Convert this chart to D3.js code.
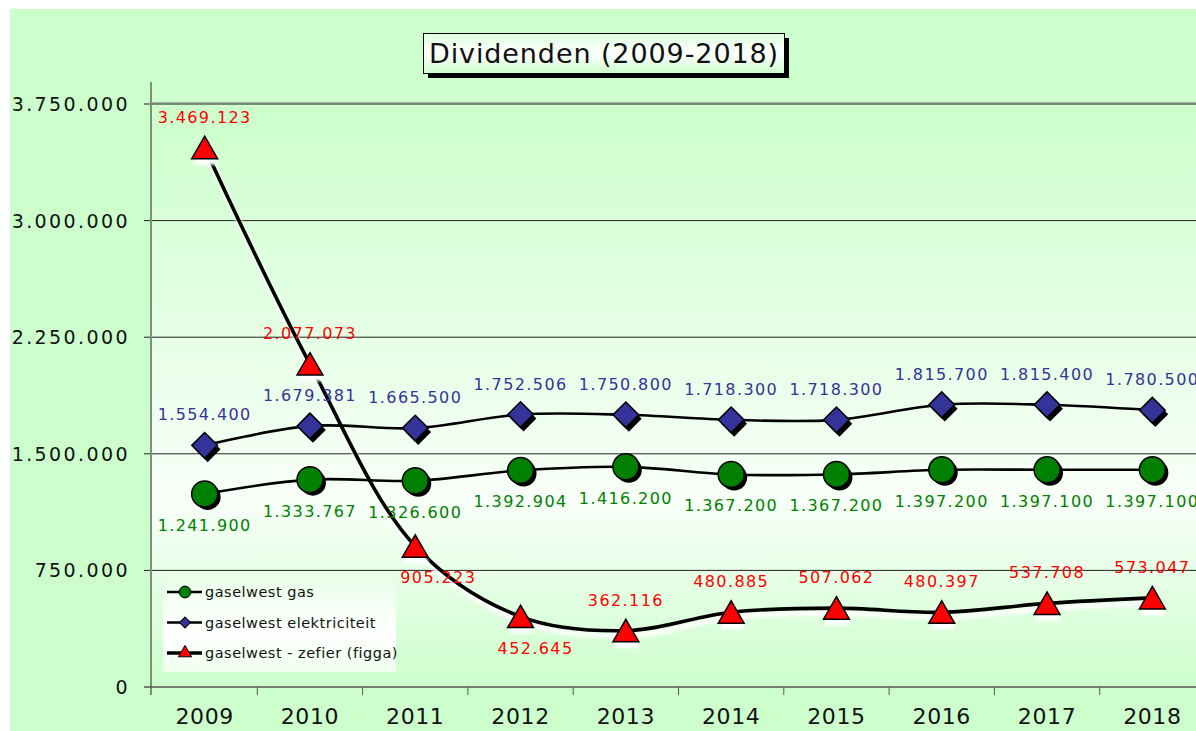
<!DOCTYPE html>
<html>
<head>
<meta charset="utf-8">
<script src="https://cdn.jsdelivr.net/npm/d3@7"></script>
<style>
  body { margin: 0; background: #fff; }
  svg { display: block; font-family: "DejaVu Sans", sans-serif; }
</style>
</head>
<body>
<div id="chart"></div>
<script>
// data
const years = ['2009', '2010', '2011', '2012', '2013', '2014', '2015', '2016', '2017', '2018'];
const gas = [1241900, 1333767, 1326600, 1392904, 1416200, 1367200, 1367200, 1397200, 1397100, 1397100];
const elektriciteit = [1554400, 1679381, 1665500, 1752506, 1750800, 1718300, 1718300, 1815700, 1815400, 1780500];
const zefier = [3469123, 2077073, 905223, 452645, 362116, 480885, 507062, 480397, 537708, 573047];
const yTicks = [0, 750000, 1500000, 2250000, 3000000, 3750000];
const seriesNames = ['gaselwest gas', 'gaselwest elektriciteit', 'gaselwest - zefier (figga)'];
// label above (-1) or below (+1) the marker, for zefier
const zefierSide = [-1, -1, 1, 1, -1, -1, -1, -1, -1, -1];
const zefierShift = [0, 0, 23, 15, 0, 0, 0, 0, 0, 0];

const W = 1196, H = 731;
const plotLeft = 152, plotRight = 1205, plotTop = 104, plotBottom = 687;

const fmt = v => d3.format(',')(v).replace(/,/g, '.');

const svg = d3.select('#chart').append('svg')
  .attr('width', W)
  .attr('height', H);

const defs = svg.append('defs');
const bg = defs.append('linearGradient').attr('id', 'plotBg')
  .attr('x1', 0).attr('y1', 0).attr('x2', 0).attr('y2', 1);
bg.append('stop').attr('offset', '0%').attr('stop-color', '#ccffcc');
bg.append('stop').attr('offset', '68%').attr('stop-color', '#f8fff8');
bg.append('stop').attr('offset', '100%').attr('stop-color', '#ccffcc');

const tg = defs.append('linearGradient').attr('id', 'titleBg')
  .attr('x1', 0).attr('y1', 0).attr('x2', 0).attr('y2', 1);
tg.append('stop').attr('offset', '0%').attr('stop-color', '#ddffdd');
tg.append('stop').attr('offset', '50%').attr('stop-color', '#ffffff');
tg.append('stop').attr('offset', '100%').attr('stop-color', '#ccffcc');

const lg = defs.append('linearGradient').attr('id', 'legendBg')
  .attr('x1', 0).attr('y1', 0).attr('x2', 0).attr('y2', 1);
lg.append('stop').attr('offset', '0%').attr('stop-color', '#e8ffe8');
lg.append('stop').attr('offset', '60%').attr('stop-color', '#ffffff');
lg.append('stop').attr('offset', '100%').attr('stop-color', '#eeffee');

defs.append('filter').attr('id', 'glow')
  .attr('x', '-20%').attr('y', '-20%').attr('width', '140%').attr('height', '140%')
  .append('feGaussianBlur').attr('stdDeviation', 1.5);

// chart background
svg.append('rect')
  .attr('x', 10).attr('y', 9)
  .attr('width', W).attr('height', H)
  .attr('fill', '#ccffcc');

// plot area
svg.append('rect')
  .attr('x', plotLeft).attr('y', plotTop)
  .attr('width', plotRight - plotLeft).attr('height', plotBottom - plotTop)
  .attr('fill', 'url(#plotBg)');

const x = d3.scaleBand().domain(years).range([plotLeft, plotRight]);
const y = d3.scaleLinear().domain([0, 3750000]).range([plotBottom, plotTop]);
const cx = d => x(d) + x.bandwidth() / 2;

// gridlines + y labels
svg.append('g').selectAll('line')
  .data(yTicks.filter(d => d > 0))
  .enter().append('line')
  .attr('x1', plotLeft - 8).attr('x2', plotRight)
  .attr('y1', d => y(d)).attr('y2', d => y(d))
  .attr('stroke', '#222').attr('stroke-width', 1);

svg.append('line')
  .attr('x1', plotLeft).attr('x2', plotRight)
  .attr('y1', plotTop - 1).attr('y2', plotTop - 1)
  .attr('stroke', '#777').attr('stroke-width', 1);

svg.append('g').selectAll('text')
  .data(yTicks)
  .enter().append('text')
  .attr('x', 130)
  .attr('y', d => y(d) + 7)
  .attr('text-anchor', 'end')
  .attr('font-size', 19)
  .attr('letter-spacing', 2.4)
  .attr('fill', '#111')
  .text(fmt);

// axes
svg.append('line')
  .attr('x1', plotLeft - 1).attr('x2', plotLeft - 1)
  .attr('y1', 82).attr('y2', plotBottom + 8)
  .attr('stroke', '#7f8f7f').attr('stroke-width', 2);
svg.append('line')
  .attr('x1', plotLeft - 8).attr('x2', plotRight)
  .attr('y1', plotBottom).attr('y2', plotBottom)
  .attr('stroke', '#555').attr('stroke-width', 1.5);

svg.append('g').selectAll('line')
  .data(years.slice(1))
  .enter().append('line')
  .attr('x1', d => x(d)).attr('x2', d => x(d))
  .attr('y1', plotBottom).attr('y2', plotBottom + 8)
  .attr('stroke', '#555').attr('stroke-width', 1);

svg.append('g').selectAll('text')
  .data(years)
  .enter().append('text')
  .attr('x', d => cx(d))
  .attr('y', 724)
  .attr('text-anchor', 'middle')
  .attr('font-size', 22)
  .attr('letter-spacing', 0.6)
  .attr('fill', '#111')
  .text(d => d);

const curve = d3.curveCatmullRom.alpha(0.5);
const lineGen = d3.line()
  .x((d, i) => cx(years[i]))
  .y(d => y(d))
  .curve(curve);

// zefier white glow underneath
svg.append('path')
  .attr('d', lineGen(zefier))
  .attr('transform', 'translate(2,5)')
  .attr('fill', 'none')
  .attr('stroke', '#ffffff')
  .attr('stroke-width', 5)
  .attr('opacity', 0.9)
  .attr('filter', 'url(#glow)');

svg.append('path')
  .attr('d', lineGen(gas))
  .attr('fill', 'none').attr('stroke', '#000').attr('stroke-width', 2.6);
svg.append('path')
  .attr('d', lineGen(elektriciteit))
  .attr('fill', 'none').attr('stroke', '#000').attr('stroke-width', 2.6);
svg.append('path')
  .attr('d', lineGen(zefier))
  .attr('fill', 'none').attr('stroke', '#000').attr('stroke-width', 3.6);

// markers
const circleSym = d3.symbol().type(d3.symbolCircle).size(530);
const diamondSym = d3.symbol().type(d3.symbolSquare).size(330);
const triSym = d3.symbol().type(d3.symbolTriangle).size(290);

function markers(vals, sym, fill, rot, dy, shadow) {
  const g = svg.append('g');
  g.selectAll('path.sh')
    .data(vals)
    .enter().append('path')
    .attr('class', 'sh')
    .attr('d', sym)
    .attr('transform', (d, i) => `translate(${cx(years[i]) + shadow[0]},${y(d) + dy + shadow[1]}) rotate(${rot})`)
    .attr('fill', shadow[2])
    .attr('filter', shadow[3] ? 'url(#glow)' : null);
  g.selectAll('path.mk')
    .data(vals)
    .enter().append('path')
    .attr('class', 'mk')
    .attr('d', sym)
    .attr('transform', (d, i) => `translate(${cx(years[i])},${y(d) + dy}) rotate(${rot})`)
    .attr('fill', fill)
    .attr('stroke', '#000')
    .attr('stroke-width', 1.5);
}

markers(gas, circleSym, '#008000', 0, 0, [3, 3, '#000', false]);
markers(elektriciteit, diamondSym, '#333399', 45, 0, [3, 4, '#000', false]);
markers(zefier, triSym, '#ff0000', 0, 3.5, [1, 6, '#ffffff', true]);

// legend
const legend = svg.append('g');
legend.append('rect')
  .attr('x', 163).attr('y', 575)
  .attr('width', 233).attr('height', 97)
  .attr('fill', 'url(#legendBg)');

const legendSyms = [
  { sym: d3.symbol().type(d3.symbolCircle).size(110), fill: '#008000', rot: 0 },
  { sym: d3.symbol().type(d3.symbolSquare).size(60), fill: '#333399', rot: 45 },
  { sym: d3.symbol().type(d3.symbolTriangle).size(75), fill: '#ff0000', rot: 0 }
];

const items = legend.selectAll('g.item')
  .data(seriesNames)
  .enter().append('g')
  .attr('class', 'item')
  .attr('transform', (d, i) => `translate(0,${592 + i * 30.5})`);

items.append('line')
  .attr('x1', 167).attr('x2', 202)
  .attr('y1', 0).attr('y2', 0)
  .attr('stroke', '#000')
  .attr('stroke-width', (d, i) => i === 2 ? 3.5 : 2.6);

items.append('path')
  .attr('d', (d, i) => legendSyms[i].sym())
  .attr('transform', (d, i) => `translate(185,0) rotate(${legendSyms[i].rot})`)
  .attr('fill', (d, i) => legendSyms[i].fill)
  .attr('stroke', '#000').attr('stroke-width', 1);

items.append('text')
  .attr('x', 205).attr('y', 5)
  .attr('font-size', 14.5)
  .attr('letter-spacing', 0.5)
  .attr('fill', '#111')
  .text(d => d);

// data labels
function labels(vals, color, side, shift) {
  svg.append('g').selectAll('text')
    .data(vals)
    .enter().append('text')
    .attr('x', (d, i) => cx(years[i]) + shift(i))
    .attr('y', (d, i) => y(d) + side(i) * 31 + 6)
    .attr('text-anchor', 'middle')
    .attr('font-size', 16)
    .attr('letter-spacing', 1.4)
    .attr('fill', color)
    .text(fmt);
}
labels(gas, '#008000', () => 1, () => 0);
labels(elektriciteit, '#333399', () => -1, () => 0);
labels(zefier, '#ff0000', i => zefierSide[i], i => zefierShift[i]);

// title
svg.append('rect')
  .attr('x', 428).attr('y', 38)
  .attr('width', 361).attr('height', 40)
  .attr('fill', '#000');
svg.append('rect')
  .attr('x', 423.5).attr('y', 33.5)
  .attr('width', 361).attr('height', 40)
  .attr('fill', 'url(#titleBg)')
  .attr('stroke', '#000').attr('stroke-width', 1);
svg.append('text')
  .attr('x', 604).attr('y', 63)
  .attr('text-anchor', 'middle')
  .attr('font-size', 27)
  .attr('letter-spacing', 0.9)
  .attr('fill', '#111')
  .text('Dividenden (2009-2018)');
</script>
</body>
</html>
